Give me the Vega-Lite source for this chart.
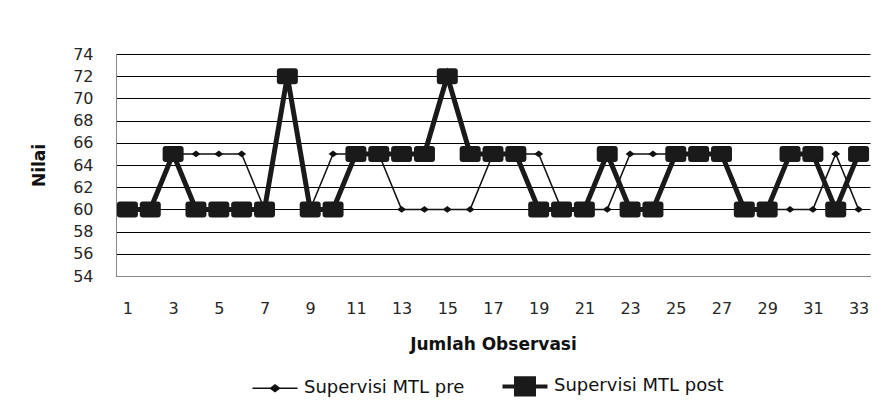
{
  "$schema": "https://vega.github.io/schema/vega-lite/v6.json",
  "width": 754,
  "height": 222,
  "autosize": {"type": "none"},
  "padding": {"left": 116, "top": 54, "right": 26, "bottom": 134},
  "background": "white",
  "config": {
    "view": {"stroke": null},
    "font": "DejaVu Sans",
    "legend": {"labelFont": "DejaVu Sans", "labelLimit": 400}
  },
  "data": {
    "values": [
      {"obs": 1, "series": "Supervisi MTL pre", "nilai": 60},
      {"obs": 2, "series": "Supervisi MTL pre", "nilai": 60},
      {"obs": 3, "series": "Supervisi MTL pre", "nilai": 65},
      {"obs": 4, "series": "Supervisi MTL pre", "nilai": 65},
      {"obs": 5, "series": "Supervisi MTL pre", "nilai": 65},
      {"obs": 6, "series": "Supervisi MTL pre", "nilai": 65},
      {"obs": 7, "series": "Supervisi MTL pre", "nilai": 60},
      {"obs": 8, "series": "Supervisi MTL pre", "nilai": 72},
      {"obs": 9, "series": "Supervisi MTL pre", "nilai": 60},
      {"obs": 10, "series": "Supervisi MTL pre", "nilai": 65},
      {"obs": 11, "series": "Supervisi MTL pre", "nilai": 65},
      {"obs": 12, "series": "Supervisi MTL pre", "nilai": 65},
      {"obs": 13, "series": "Supervisi MTL pre", "nilai": 60},
      {"obs": 14, "series": "Supervisi MTL pre", "nilai": 60},
      {"obs": 15, "series": "Supervisi MTL pre", "nilai": 60},
      {"obs": 16, "series": "Supervisi MTL pre", "nilai": 60},
      {"obs": 17, "series": "Supervisi MTL pre", "nilai": 65},
      {"obs": 18, "series": "Supervisi MTL pre", "nilai": 65},
      {"obs": 19, "series": "Supervisi MTL pre", "nilai": 65},
      {"obs": 20, "series": "Supervisi MTL pre", "nilai": 60},
      {"obs": 21, "series": "Supervisi MTL pre", "nilai": 60},
      {"obs": 22, "series": "Supervisi MTL pre", "nilai": 60},
      {"obs": 23, "series": "Supervisi MTL pre", "nilai": 65},
      {"obs": 24, "series": "Supervisi MTL pre", "nilai": 65},
      {"obs": 25, "series": "Supervisi MTL pre", "nilai": 65},
      {"obs": 26, "series": "Supervisi MTL pre", "nilai": 65},
      {"obs": 27, "series": "Supervisi MTL pre", "nilai": 65},
      {"obs": 28, "series": "Supervisi MTL pre", "nilai": 60},
      {"obs": 29, "series": "Supervisi MTL pre", "nilai": 60},
      {"obs": 30, "series": "Supervisi MTL pre", "nilai": 60},
      {"obs": 31, "series": "Supervisi MTL pre", "nilai": 60},
      {"obs": 32, "series": "Supervisi MTL pre", "nilai": 65},
      {"obs": 33, "series": "Supervisi MTL pre", "nilai": 60},
      {"obs": 1, "series": "Supervisi MTL post", "nilai": 60},
      {"obs": 2, "series": "Supervisi MTL post", "nilai": 60},
      {"obs": 3, "series": "Supervisi MTL post", "nilai": 65},
      {"obs": 4, "series": "Supervisi MTL post", "nilai": 60},
      {"obs": 5, "series": "Supervisi MTL post", "nilai": 60},
      {"obs": 6, "series": "Supervisi MTL post", "nilai": 60},
      {"obs": 7, "series": "Supervisi MTL post", "nilai": 60},
      {"obs": 8, "series": "Supervisi MTL post", "nilai": 72},
      {"obs": 9, "series": "Supervisi MTL post", "nilai": 60},
      {"obs": 10, "series": "Supervisi MTL post", "nilai": 60},
      {"obs": 11, "series": "Supervisi MTL post", "nilai": 65},
      {"obs": 12, "series": "Supervisi MTL post", "nilai": 65},
      {"obs": 13, "series": "Supervisi MTL post", "nilai": 65},
      {"obs": 14, "series": "Supervisi MTL post", "nilai": 65},
      {"obs": 15, "series": "Supervisi MTL post", "nilai": 72},
      {"obs": 16, "series": "Supervisi MTL post", "nilai": 65},
      {"obs": 17, "series": "Supervisi MTL post", "nilai": 65},
      {"obs": 18, "series": "Supervisi MTL post", "nilai": 65},
      {"obs": 19, "series": "Supervisi MTL post", "nilai": 60},
      {"obs": 20, "series": "Supervisi MTL post", "nilai": 60},
      {"obs": 21, "series": "Supervisi MTL post", "nilai": 60},
      {"obs": 22, "series": "Supervisi MTL post", "nilai": 65},
      {"obs": 23, "series": "Supervisi MTL post", "nilai": 60},
      {"obs": 24, "series": "Supervisi MTL post", "nilai": 60},
      {"obs": 25, "series": "Supervisi MTL post", "nilai": 65},
      {"obs": 26, "series": "Supervisi MTL post", "nilai": 65},
      {"obs": 27, "series": "Supervisi MTL post", "nilai": 65},
      {"obs": 28, "series": "Supervisi MTL post", "nilai": 60},
      {"obs": 29, "series": "Supervisi MTL post", "nilai": 60},
      {"obs": 30, "series": "Supervisi MTL post", "nilai": 65},
      {"obs": 31, "series": "Supervisi MTL post", "nilai": 65},
      {"obs": 32, "series": "Supervisi MTL post", "nilai": 60},
      {"obs": 33, "series": "Supervisi MTL post", "nilai": 65}
    ]
  },
  "encoding": {
    "x": {
      "field": "obs",
      "type": "quantitative",
      "title": "Jumlah Observasi",
      "scale": {"domain": [0.5, 33.5], "nice": false, "zero": false},
      "axis": {
        "values": [1, 3, 5, 7, 9, 11, 13, 15, 17, 19, 21, 23, 25, 27, 29, 31, 33],
        "grid": false,
        "ticks": false,
        "domainColor": "#888888",
        "domainWidth": 1,
        "labelFont": "DejaVu Sans",
        "labelFontSize": 16,
        "labelColor": "#262626",
        "labelPadding": 24,
        "titleFont": "DejaVu Sans",
        "titleFontSize": 17,
        "titleFontWeight": "bold",
        "titleColor": "#111111",
        "titlePadding": 20
      }
    },
    "y": {
      "field": "nilai",
      "type": "quantitative",
      "title": "Nilai",
      "scale": {"domain": [54, 74], "nice": false, "zero": false},
      "axis": {
        "values": [54, 56, 58, 60, 62, 64, 66, 68, 70, 72, 74],
        "grid": true,
        "gridColor": "#000000",
        "gridWidth": 1,
        "gridOpacity": 1,
        "ticks": false,
        "domainColor": "#888888",
        "domainWidth": 1,
        "labelFont": "DejaVu Sans",
        "labelFontSize": 16,
        "labelColor": "#262626",
        "labelPadding": 23,
        "titleFont": "DejaVu Sans",
        "titleFontSize": 17,
        "titleFontWeight": "bold",
        "titleColor": "#111111",
        "titlePadding": 24
      }
    }
  },
  "layer": [
    {
      "transform": [{"filter": "datum.series === 'Supervisi MTL pre'"}],
      "mark": {"type": "line", "strokeWidth": 1.5},
      "encoding": {
        "color": {
          "field": "series",
          "type": "nominal",
          "scale": {"domain": ["Supervisi MTL pre", "Supervisi MTL post"], "range": ["#111111", "#1a1a1a"]},
          "legend": {
            "title": null,
            "orient": "none",
            "direction": "horizontal",
            "legendX": 150,
            "legendY": 323,
            "symbolSize": 2025,
            "labelFont": "DejaVu Sans",
            "labelFontSize": 18,
            "labelLimit": 400,
            "labelColor": "#111111",
            "labelOffset": 20,
            "columnPadding": 29,
            "encode": {
              "symbols": {
                "update": {
                  "shape": {"signal": "datum.value === 'Supervisi MTL pre' ? 'M-1,0L1,0M-0.2,0L0,-0.15L0.2,0L0,0.15ZM0,-0.42L0,-0.42M0,0.42L0,0.42' : 'M-1,0L1,0M-0.4,-0.36L0.4,-0.36L0.4,0.36L-0.4,0.36Z'"},
                  "strokeWidth": {"signal": "datum.value === 'Supervisi MTL pre' ? 1.5 : 4"},
                  "fill": {"value": "#111111"},
                  "stroke": {"value": "#111111"},
                  "opacity": {"value": 1}
                }
              }
            }
          }
        }
      }
    },
    {
      "transform": [{"filter": "datum.series === 'Supervisi MTL pre'"}],
      "mark": {"type": "point", "filled": true, "opacity": 1, "shape": "M-1,0L0,-0.75L1,0L0,0.75Z", "size": 81},
      "encoding": {"color": {"field": "series", "type": "nominal"}}
    },
    {
      "transform": [{"filter": "datum.series === 'Supervisi MTL post'"}],
      "mark": {"type": "line", "strokeWidth": 5},
      "encoding": {"color": {"field": "series", "type": "nominal"}}
    },
    {
      "transform": [{"filter": "datum.series === 'Supervisi MTL post'"}],
      "mark": {"type": "point", "filled": true, "opacity": 1, "shape": "M-0.72,-0.76L0.72,-0.76Q1,-0.76 1,-0.48L1,0.48Q1,0.76 0.72,0.76L-0.72,0.76Q-1,0.76 -1,0.48L-1,-0.48Q-1,-0.76 -0.72,-0.76Z", "size": 441},
      "encoding": {"color": {"field": "series", "type": "nominal"}}
    }
  ]
}
